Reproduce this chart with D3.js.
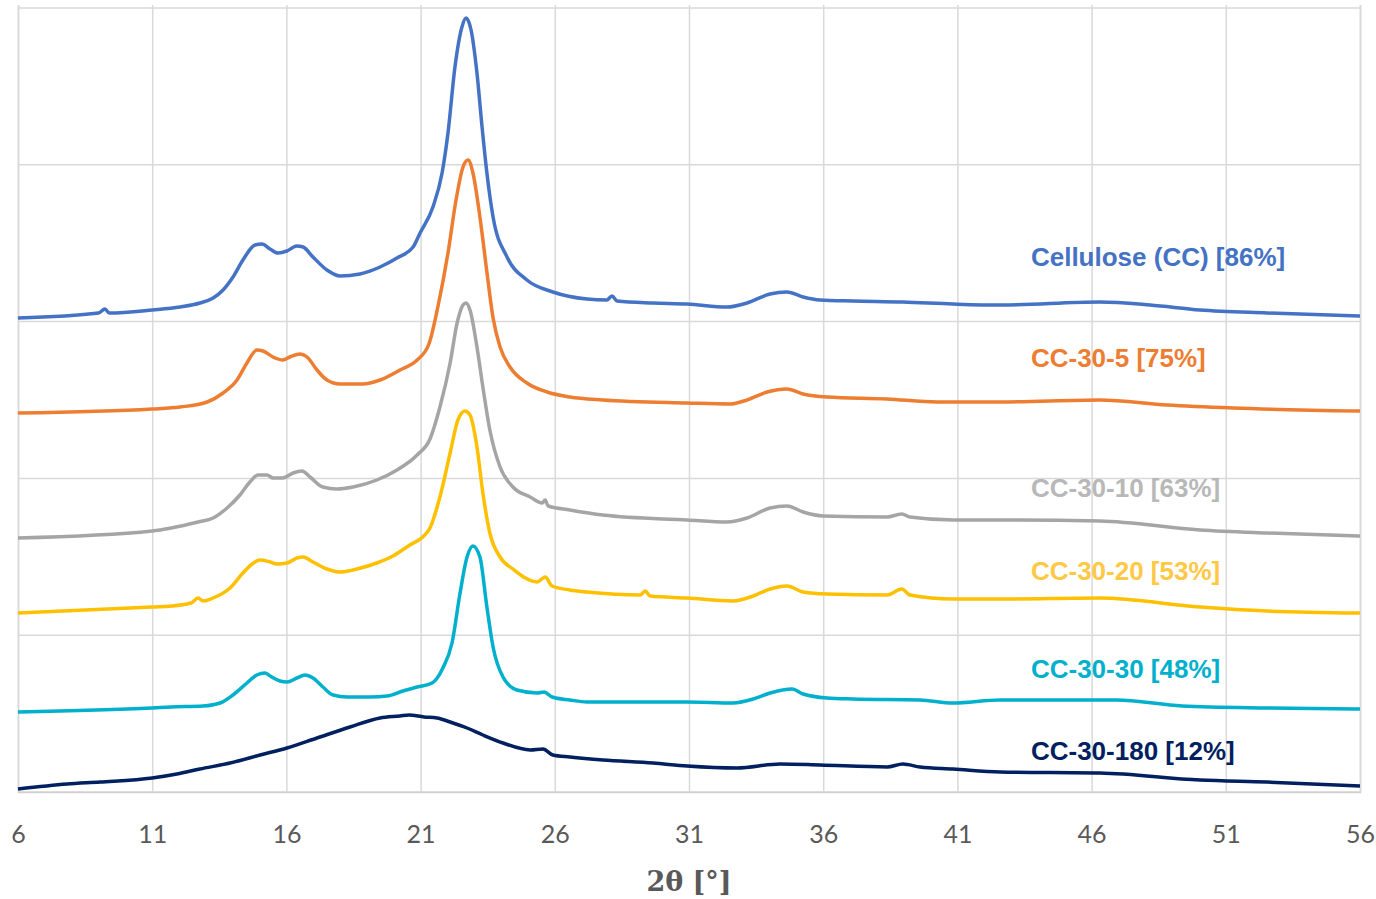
<!DOCTYPE html>
<html>
<head>
<meta charset="utf-8">
<script src="https://cdn.jsdelivr.net/npm/d3@7"></script>
<style>
  body { margin: 0; background: #fff; }
  svg { display: block; }
</style>
</head>
<body>
<div class="canvas"></div>
<script>
// x ticks (2theta) and hidden y grid (intensity, arbitrary units)
const xTicks = [6, 11, 16, 21, 26, 31, 36, 41, 46, 51, 56];
const yGrid = [0, 156.8, 313.6, 470.4, 627.2, 784];

const seriesNames = ["Cellulose (CC) [86%]", "CC-30-5 [75%]", "CC-30-10 [63%]", "CC-30-20 [53%]", "CC-30-30 [48%]", "CC-30-180 [12%]"];
const lineColors = ["#4472C4", "#ED7D31", "#A5A5A5", "#FFC000", "#00B0CC", "#002060"];
const labelColors = ["#4472C4", "#ED7D31", "#B8B8B8", "#FFC845", "#00B0CC", "#002060"];

// [2theta, intensity]
const cellulose = [[6,474],[9.0,479],[9.24,483],[9.4,479],[11,482],[12.04,485],[12.78,489],[13.27,494],[13.64,502],[14.01,515],[14.38,532],[14.83,547],[15.09,548],[15.39,543],[15.69,539],[16.02,541],[16.39,546],[16.62,545],[16.99,535],[17.51,522],[18.0,516],[18.74,518],[19.49,525],[20.12,534],[20.72,545],[20.98,559],[21.46,585],[21.8,619],[22.02,659],[22.28,725],[22.54,765],[22.69,774],[22.88,762],[23.1,719],[23.29,665],[23.47,619],[23.7,575],[24.22,535],[24.96,512],[25.93,500],[27.2,493],[27.94,492],[28.13,496],[28.32,491],[29.66,489],[30.93,488],[32.42,485],[33.16,489],[34.02,498],[34.65,500],[35.25,495],[35.88,492],[37.11,491],[38.97,490],[40.84,488],[42.59,487],[46.31,490],[48.18,487],[50.04,482],[52.53,479],[56,476]];
const cc305 = [[6,379],[11,383],[12.04,385],[13.05,390],[13.64,399],[14.16,412],[14.53,429],[14.9,442],[15.13,441],[15.5,435],[15.87,432],[16.13,435],[16.51,438],[16.77,435],[17.14,422],[17.51,412],[18.0,408],[18.85,408],[19.49,412],[20.23,422],[20.87,432],[21.31,448],[21.65,486],[22.02,539],[22.32,592],[22.58,625],[22.77,632],[22.95,619],[23.21,575],[23.47,520],[23.7,474],[23.96,445],[24.33,425],[24.96,409],[25.71,400],[26.56,395],[27.79,392],[30.93,389],[32.53,388],[33.16,392],[33.91,400],[34.65,403],[35.25,398],[36.14,395],[38.38,393],[40.24,390],[42.59,390],[46.31,392],[48.81,387],[51.27,384],[56,381]];
const cc3010 = [[6,254],[11,261],[11.71,264],[12.71,270],[13.27,274],[13.79,284],[14.27,297],[14.64,310],[14.94,317],[15.28,317],[15.5,314],[15.87,314],[16.25,319],[16.58,321],[16.88,315],[17.36,305],[17.88,303],[18.48,305],[19.37,312],[20.12,322],[20.87,337],[21.35,353],[21.72,385],[22.1,429],[22.36,469],[22.58,487],[22.69,489],[22.84,482],[23.1,445],[23.32,405],[23.58,362],[23.96,325],[24.44,305],[25.08,295],[25.53,289],[25.64,292],[25.75,286],[26.56,282],[27.79,277],[30.93,272],[32.42,270],[33.16,274],[34.02,284],[34.65,286],[35.25,280],[35.99,276],[38.38,275],[38.93,278],[39.23,275],[40.84,272],[42.59,272],[46.31,271],[50.04,262],[52.53,259],[56,256]];
const cc3020 = [[6,179],[11,185],[11.71,186],[12.45,189],[12.71,194],[12.9,191],[13.27,194],[13.9,204],[14.38,219],[14.72,228],[15.02,232],[15.39,230],[15.65,228],[16.02,229],[16.39,234],[16.62,235],[16.99,230],[17.51,223],[18.0,220],[18.63,223],[19.37,229],[19.97,236],[20.6,247],[21.08,255],[21.35,264],[21.72,295],[22.1,339],[22.39,372],[22.65,381],[22.84,377],[23.1,345],[23.32,299],[23.58,259],[23.96,235],[24.44,223],[25.34,210],[25.64,215],[25.9,206],[26.56,202],[27.2,200],[29.18,197],[29.37,201],[29.55,196],[30.93,194],[32.64,191],[33.39,196],[34.02,203],[34.65,206],[35.25,200],[36.14,198],[38.38,197],[38.93,203],[39.23,197],[40.84,193],[42.59,193],[46.31,194],[50.04,185],[52.53,181],[56,179]];
const cc3030 = [[6,80],[11,84],[11.71,85],[12.89,86],[13.53,89],[14.01,97],[14.53,109],[14.9,117],[15.2,119],[15.39,116],[15.76,111],[16.02,110],[16.39,114],[16.69,117],[16.99,114],[17.36,105],[17.74,97],[18.26,95],[19.11,95],[19.75,96],[20.34,101],[20.87,105],[21.43,109],[21.83,124],[22.17,149],[22.47,199],[22.73,235],[22.95,246],[23.21,235],[23.47,185],[23.7,145],[24.07,115],[24.59,102],[25.34,99],[25.6,100],[25.9,95],[26.56,92],[27.2,90],[29.66,90],[30.93,90],[32.64,89],[33.39,93],[34.02,99],[34.84,103],[35.25,98],[36.14,94],[37.11,93],[39.61,92],[40.84,89],[42.59,92],[46.91,92],[49.37,86],[52.53,84],[56,83]];
const cc30180 = [[6,3],[7.83,8],[9.06,10],[11,14],[11.92,18],[12.78,23],[13.9,29],[15.02,37],[16.02,44],[17.14,54],[18.37,65],[19.49,74],[20.23,76],[20.57,77],[21.13,75],[21.61,74],[22.1,70],[22.73,64],[23.32,57],[24.07,49],[25.08,42],[25.56,43],[25.93,37],[26.56,35],[27.79,32],[29.66,29],[30.93,26],[32.79,24],[34.39,28],[35.88,27],[38.38,25],[38.97,28],[39.61,25],[40.84,23],[42.59,20],[46.31,19],[50.04,12],[52.53,10],[56,6]];

const allSeries = [cellulose, cc305, cc3010, cc3020, cc3030, cc30180];
// label anchor: 2theta position and intensity for each label
const labelX = [43.74, 43.74, 43.74, 43.74, 43.74, 43.74];
const labelY = [526, 425, 295, 212, 114, 32];

const width = 1376, height = 899;
const margin = {top: 8, right: 16, bottom: 107, left: 18};

const svg = d3.select(".canvas").append("svg")
  .attr("width", width)
  .attr("height", height);

let xScale = d3.scaleLinear().domain([6, 56]).range([margin.left, width - margin.right]);
let yScale = d3.scaleLinear().domain([0, 784]).range([height - margin.bottom, margin.top]);

// horizontal grid
svg.append("g")
  .selectAll("line")
  .data(yGrid)
  .join("line")
  .attr("x1", xScale(6))
  .attr("x2", xScale(56))
  .attr("y1", d => yScale(d))
  .attr("y2", d => yScale(d))
  .attr("stroke", "#d9d9d9")
  .attr("stroke-width", 1.5);

// x axis with vertical grid
const xAxis = svg.append("g")
  .attr("transform", `translate(0,${yScale(0)})`)
  .call(d3.axisBottom(xScale)
    .tickValues(xTicks)
    .tickFormat(d3.format("d"))
    .tickSize(-(yScale(0) - yScale(784)) - 3)
    .tickPadding(33));

xAxis.select(".domain").attr("stroke", "#d0d0d0").attr("stroke-width", 1.5);
xAxis.selectAll(".tick line").attr("stroke", "#d9d9d9").attr("stroke-width", 1.5);
xAxis.selectAll(".tick text")
  .attr("fill", "#595959")
  .style("font-family", "Lato, 'Open Sans', sans-serif")
  .style("font-size", "25px");

// curves
const line = d3.line()
  .x(d => xScale(d[0]))
  .y(d => yScale(d[1]))
  .curve(d3.curveMonotoneX);

svg.append("g")
  .selectAll("path")
  .data(allSeries)
  .join("path")
  .attr("d", d => line(d))
  .attr("fill", "none")
  .attr("stroke", (d, i) => lineColors[i])
  .attr("stroke-width", 3.5)
  .attr("stroke-linejoin", "round");

// series labels
svg.append("g")
  .selectAll("text")
  .data(seriesNames)
  .join("text")
  .attr("x", (d, i) => xScale(labelX[i]))
  .attr("y", (d, i) => yScale(labelY[i]))
  .attr("fill", (d, i) => labelColors[i])
  .style("font-family", "'Liberation Sans', Arial, sans-serif")
  .style("font-weight", 700)
  .style("font-size", "26px")
  .text(d => d);

// axis title
svg.append("text")
  .attr("x", (xScale(6) + xScale(56)) / 2)
  .attr("y", 891)
  .attr("text-anchor", "middle")
  .attr("fill", "#595959")
  .style("font-family", "'DejaVu Serif', serif")
  .style("font-weight", 700)
  .style("font-size", "27px")
  .text("2θ [°]");
</script>
</body>
</html>
